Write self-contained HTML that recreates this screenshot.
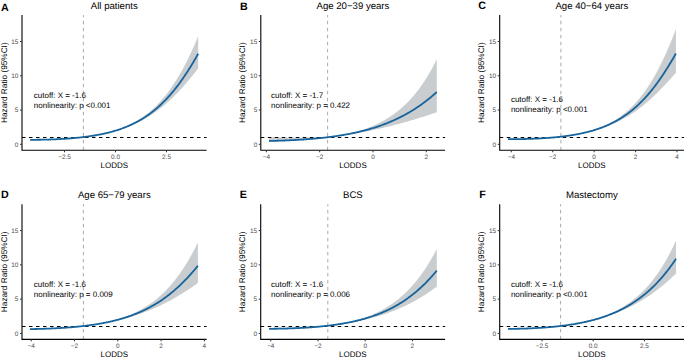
<!DOCTYPE html>
<html><head><meta charset="utf-8"><style>
html,body{margin:0;padding:0;background:#fff;}
body{width:685px;height:358px;overflow:hidden;}
svg{display:block;}
text{font-family:"Liberation Sans",sans-serif;text-rendering:geometricPrecision;}
.tk{font-size:6.4px;fill:#4D4D4D;}
.at{font-size:8px;fill:#000;}
.ti{font-size:9.6px;fill:#000;}
.lb{font-size:10.7px;font-weight:bold;fill:#000;}
.an{font-size:8px;fill:#000;}
.yt{font-size:8.25px;fill:#000;}
</style></head><body>
<svg width="685" height="358" viewBox="0 0 685 358">
<rect width="685" height="358" fill="#fff"/>
<polygon points="30.1,139.56 30.85,139.56 31.59,139.57 32.34,139.57 33.09,139.57 33.84,139.57 34.58,139.57 35.33,139.57 36.08,139.57 36.82,139.57 37.57,139.56 38.32,139.56 39.07,139.55 39.81,139.54 40.56,139.53 41.31,139.53 42.05,139.51 42.8,139.5 43.55,139.49 44.3,139.48 45.04,139.46 45.79,139.45 46.54,139.43 47.28,139.41 48.03,139.39 48.78,139.37 49.52,139.35 50.27,139.33 51.02,139.31 51.77,139.28 52.51,139.26 53.26,139.23 54.01,139.2 54.75,139.17 55.5,139.14 56.25,139.11 57,139.08 57.74,139.05 58.49,139.01 59.24,138.98 59.98,138.94 60.73,138.9 61.48,138.86 62.23,138.82 62.97,138.78 63.72,138.74 64.47,138.69 65.21,138.64 65.96,138.6 66.71,138.55 67.46,138.5 68.2,138.45 68.95,138.4 69.7,138.34 70.44,138.29 71.19,138.23 71.94,138.17 72.69,138.11 73.43,138.05 74.18,137.99 74.93,137.92 75.67,137.86 76.42,137.79 77.17,137.72 77.92,137.65 78.66,137.58 79.41,137.5 80.16,137.43 80.9,137.35 81.65,137.27 82.4,137.19 83.14,137.1 83.89,137.01 84.64,136.92 85.39,136.82 86.13,136.72 86.88,136.62 87.63,136.52 88.37,136.42 89.12,136.31 89.87,136.2 90.62,136.08 91.36,135.97 92.11,135.85 92.86,135.73 93.6,135.6 94.35,135.48 95.1,135.35 95.85,135.21 96.59,135.08 97.34,134.94 98.09,134.8 98.83,134.65 99.58,134.5 100.33,134.35 101.08,134.19 101.82,134.03 102.57,133.87 103.32,133.7 104.06,133.53 104.81,133.36 105.56,133.18 106.31,133 107.05,132.81 107.8,132.62 108.55,132.43 109.29,132.23 110.04,132.02 110.79,131.82 111.54,131.6 112.28,131.39 113.03,131.16 113.78,130.94 114.52,130.7 115.27,130.47 116.02,130.22 116.76,129.98 117.51,129.72 118.26,129.46 119.01,129.2 119.75,128.93 120.5,128.65 121.25,128.37 121.99,128.08 122.74,127.79 123.49,127.49 124.24,127.18 124.98,126.87 125.73,126.55 126.48,126.22 127.22,125.88 127.97,125.54 128.72,125.19 129.47,124.83 130.21,124.47 130.96,124.1 131.71,123.72 132.45,123.33 133.2,122.93 133.95,122.53 134.7,122.12 135.44,121.69 136.19,121.26 136.94,120.82 137.68,120.37 138.43,119.92 139.18,119.45 139.93,118.97 140.67,118.48 141.42,117.99 142.17,117.48 142.91,116.96 143.66,116.43 144.41,115.89 145.16,115.34 145.9,114.78 146.65,114.21 147.4,113.62 148.14,113.03 148.89,112.42 149.64,111.8 150.38,111.17 151.13,110.52 151.88,109.87 152.63,109.2 153.37,108.51 154.12,107.82 154.87,107.11 155.61,106.38 156.36,105.64 157.11,104.89 157.86,104.13 158.6,103.34 159.35,102.55 160.1,101.74 160.84,100.91 161.59,100.07 162.34,99.21 163.09,98.34 163.83,97.45 164.58,96.55 165.33,95.63 166.07,94.69 166.82,93.73 167.57,92.76 168.32,91.77 169.06,90.77 169.81,89.74 170.56,88.7 171.3,87.64 172.05,86.56 172.8,85.47 173.55,84.35 174.29,83.22 175.04,82.07 175.79,80.9 176.53,79.7 177.28,78.49 178.03,77.26 178.78,76.02 179.52,74.75 180.27,73.46 181.02,72.15 181.76,70.82 182.51,69.47 183.26,68.09 184,66.7 184.75,65.29 185.5,63.86 186.25,62.4 186.99,60.93 187.74,59.43 188.49,57.91 189.23,56.37 189.98,54.81 190.73,53.23 191.48,51.63 192.22,50.01 192.97,48.36 193.72,46.69 194.46,45.01 195.21,43.3 195.96,41.57 196.71,39.81 197.45,38.04 198.2,36.25 198.2,68.38 197.45,69.34 196.71,70.3 195.96,71.25 195.21,72.2 194.46,73.14 193.72,74.07 192.97,75 192.22,75.92 191.48,76.84 190.73,77.75 189.98,78.66 189.23,79.56 188.49,80.45 187.74,81.34 186.99,82.21 186.25,83.09 185.5,83.95 184.75,84.81 184,85.66 183.26,86.5 182.51,87.33 181.76,88.16 181.02,88.98 180.27,89.79 179.52,90.59 178.78,91.39 178.03,92.17 177.28,92.95 176.53,93.72 175.79,94.48 175.04,95.24 174.29,95.98 173.55,96.72 172.8,97.45 172.05,98.17 171.3,98.88 170.56,99.58 169.81,100.28 169.06,100.96 168.32,101.64 167.57,102.31 166.82,102.97 166.07,103.62 165.33,104.27 164.58,104.9 163.83,105.53 163.09,106.15 162.34,106.76 161.59,107.36 160.84,107.95 160.1,108.54 159.35,109.12 158.6,109.69 157.86,110.25 157.11,110.8 156.36,111.34 155.61,111.88 154.87,112.41 154.12,112.93 153.37,113.44 152.63,113.95 151.88,114.45 151.13,114.94 150.38,115.42 149.64,115.9 148.89,116.36 148.14,116.83 147.4,117.28 146.65,117.72 145.9,118.16 145.16,118.6 144.41,119.02 143.66,119.44 142.91,119.85 142.17,120.26 141.42,120.65 140.67,121.04 139.93,121.43 139.18,121.81 138.43,122.18 137.68,122.55 136.94,122.91 136.19,123.26 135.44,123.61 134.7,123.95 133.95,124.28 133.2,124.61 132.45,124.94 131.71,125.26 130.96,125.57 130.21,125.88 129.47,126.18 128.72,126.47 127.97,126.76 127.22,127.05 126.48,127.33 125.73,127.61 124.98,127.88 124.24,128.14 123.49,128.4 122.74,128.66 121.99,128.91 121.25,129.16 120.5,129.4 119.75,129.64 119.01,129.87 118.26,130.1 117.51,130.33 116.76,130.55 116.02,130.77 115.27,130.98 114.52,131.19 113.78,131.39 113.03,131.59 112.28,131.79 111.54,131.98 110.79,132.17 110.04,132.36 109.29,132.54 108.55,132.72 107.8,132.9 107.05,133.07 106.31,133.24 105.56,133.4 104.81,133.56 104.06,133.72 103.32,133.88 102.57,134.03 101.82,134.18 101.08,134.33 100.33,134.47 99.58,134.62 98.83,134.75 98.09,134.89 97.34,135.02 96.59,135.15 95.85,135.28 95.1,135.41 94.35,135.53 93.6,135.65 92.86,135.77 92.11,135.88 91.36,136 90.62,136.11 89.87,136.22 89.12,136.32 88.37,136.43 87.63,136.53 86.88,136.63 86.13,136.73 85.39,136.82 84.64,136.92 83.89,137.01 83.14,137.1 82.4,137.19 81.65,137.28 80.9,137.37 80.16,137.45 79.41,137.54 78.66,137.62 77.92,137.7 77.17,137.78 76.42,137.85 75.67,137.93 74.93,138 74.18,138.07 73.43,138.14 72.69,138.2 71.94,138.27 71.19,138.33 70.44,138.4 69.7,138.46 68.95,138.52 68.2,138.57 67.46,138.63 66.71,138.68 65.96,138.74 65.21,138.79 64.47,138.84 63.72,138.89 62.97,138.94 62.23,138.98 61.48,139.03 60.73,139.07 59.98,139.12 59.24,139.16 58.49,139.2 57.74,139.24 57,139.27 56.25,139.31 55.5,139.35 54.75,139.38 54.01,139.41 53.26,139.44 52.51,139.48 51.77,139.51 51.02,139.53 50.27,139.56 49.52,139.59 48.78,139.61 48.03,139.64 47.28,139.66 46.54,139.68 45.79,139.7 45.04,139.72 44.3,139.74 43.55,139.76 42.8,139.78 42.05,139.79 41.31,139.81 40.56,139.82 39.81,139.84 39.07,139.85 38.32,139.86 37.57,139.87 36.82,139.88 36.08,139.88 35.33,139.89 34.58,139.9 33.84,139.9 33.09,139.91 32.34,139.91 31.59,139.91 30.85,139.91 30.1,139.91" fill="#C9CDCF"/>
<line x1="22.0" y1="137.45" x2="206.6" y2="137.45" stroke="#000" stroke-width="1.1" stroke-dasharray="3.5 3.5"/>
<line x1="83.4" y1="150.3" x2="83.4" y2="15.1" stroke="#A0A0A0" stroke-width="0.9" stroke-dasharray="3.5 3.5"/>
<polyline points="30.1,139.79 30.85,139.8 31.59,139.8 32.34,139.8 33.09,139.8 33.84,139.79 34.58,139.79 35.33,139.79 36.08,139.78 36.82,139.78 37.57,139.77 38.32,139.76 39.07,139.75 39.81,139.74 40.56,139.73 41.31,139.72 42.05,139.7 42.8,139.69 43.55,139.67 44.3,139.66 45.04,139.64 45.79,139.62 46.54,139.6 47.28,139.58 48.03,139.56 48.78,139.53 49.52,139.51 50.27,139.49 51.02,139.46 51.77,139.43 52.51,139.4 53.26,139.37 54.01,139.34 54.75,139.31 55.5,139.28 56.25,139.24 57,139.21 57.74,139.17 58.49,139.14 59.24,139.1 59.98,139.06 60.73,139.02 61.48,138.97 62.23,138.93 62.97,138.88 63.72,138.84 64.47,138.79 65.21,138.74 65.96,138.69 66.71,138.64 67.46,138.59 68.2,138.53 68.95,138.48 69.7,138.42 70.44,138.36 71.19,138.3 71.94,138.24 72.69,138.17 73.43,138.11 74.18,138.04 74.93,137.97 75.67,137.9 76.42,137.83 77.17,137.76 77.92,137.68 78.66,137.6 79.41,137.53 80.16,137.44 80.9,137.36 81.65,137.28 82.4,137.19 83.14,137.1 83.89,137.01 84.64,136.92 85.39,136.82 86.13,136.73 86.88,136.63 87.63,136.53 88.37,136.42 89.12,136.32 89.87,136.21 90.62,136.1 91.36,135.98 92.11,135.87 92.86,135.75 93.6,135.63 94.35,135.5 95.1,135.38 95.85,135.25 96.59,135.12 97.34,134.98 98.09,134.84 98.83,134.7 99.58,134.56 100.33,134.41 101.08,134.26 101.82,134.11 102.57,133.95 103.32,133.79 104.06,133.63 104.81,133.46 105.56,133.29 106.31,133.12 107.05,132.94 107.8,132.76 108.55,132.57 109.29,132.39 110.04,132.19 110.79,132 111.54,131.79 112.28,131.59 113.03,131.38 113.78,131.17 114.52,130.95 115.27,130.73 116.02,130.5 116.76,130.27 117.51,130.03 118.26,129.79 119.01,129.54 119.75,129.29 120.5,129.03 121.25,128.77 121.99,128.5 122.74,128.23 123.49,127.95 124.24,127.67 124.98,127.38 125.73,127.08 126.48,126.78 127.22,126.48 127.97,126.16 128.72,125.84 129.47,125.52 130.21,125.19 130.96,124.85 131.71,124.5 132.45,124.15 133.2,123.79 133.95,123.42 134.7,123.05 135.44,122.67 136.19,122.28 136.94,121.89 137.68,121.49 138.43,121.08 139.18,120.66 139.93,120.23 140.67,119.8 141.42,119.36 142.17,118.9 142.91,118.45 143.66,117.98 144.41,117.5 145.16,117.02 145.9,116.52 146.65,116.02 147.4,115.51 148.14,114.99 148.89,114.46 149.64,113.92 150.38,113.37 151.13,112.81 151.88,112.24 152.63,111.66 153.37,111.07 154.12,110.47 154.87,109.86 155.61,109.24 156.36,108.61 157.11,107.97 157.86,107.31 158.6,106.65 159.35,105.97 160.1,105.29 160.84,104.59 161.59,103.88 162.34,103.16 163.09,102.43 163.83,101.68 164.58,100.93 165.33,100.16 166.07,99.38 166.82,98.59 167.57,97.78 168.32,96.96 169.06,96.13 169.81,95.29 170.56,94.44 171.3,93.57 172.05,92.69 172.8,91.8 173.55,90.89 174.29,89.98 175.04,89.04 175.79,88.1 176.53,87.14 177.28,86.17 178.03,85.19 178.78,84.19 179.52,83.18 180.27,82.16 181.02,81.12 181.76,80.07 182.51,79.01 183.26,77.93 184,76.84 184.75,75.74 185.5,74.62 186.25,73.5 186.99,72.35 187.74,71.2 188.49,70.03 189.23,68.85 189.98,67.66 190.73,66.45 191.48,65.23 192.22,64 192.97,62.76 193.72,61.51 194.46,60.24 195.21,58.96 195.96,57.67 196.71,56.37 197.45,55.05 198.2,53.73" fill="none" stroke="#17639C" stroke-width="1.8" stroke-linejoin="round"/>
<path d="M22.0,15.1 V150.3 H206.6" fill="none" stroke="#000" stroke-width="1.1"/>
<line x1="20" y1="144.3" x2="22.0" y2="144.3" stroke="#333333" stroke-width="1"/>
<text x="18.4" y="146.6" class="tk" text-anchor="end">0</text>
<line x1="20" y1="110.04" x2="22.0" y2="110.04" stroke="#333333" stroke-width="1"/>
<text x="18.4" y="112.34" class="tk" text-anchor="end">5</text>
<line x1="20" y1="75.77" x2="22.0" y2="75.77" stroke="#333333" stroke-width="1"/>
<text x="18.4" y="78.07" class="tk" text-anchor="end">10</text>
<line x1="20" y1="41.51" x2="22.0" y2="41.51" stroke="#333333" stroke-width="1"/>
<text x="18.4" y="43.81" class="tk" text-anchor="end">15</text>
<line x1="64.5" y1="150.3" x2="64.5" y2="152.3" stroke="#333333" stroke-width="1"/>
<text x="64.5" y="158.8" class="tk" text-anchor="middle">−2.5</text>
<line x1="115.5" y1="150.3" x2="115.5" y2="152.3" stroke="#333333" stroke-width="1"/>
<text x="115.5" y="158.8" class="tk" text-anchor="middle">0.0</text>
<line x1="166.5" y1="150.3" x2="166.5" y2="152.3" stroke="#333333" stroke-width="1"/>
<text x="166.5" y="158.8" class="tk" text-anchor="middle">2.5</text>
<text x="114.3" y="167.8" class="at" text-anchor="middle">LODDS</text>
<text transform="translate(6.6,82.7) rotate(-90)" class="yt" text-anchor="middle">Hazard Ratio (95%CI)</text>
<text x="114.3" y="9.0" class="ti" text-anchor="middle">All patients</text>
<text x="1.1" y="11" class="lb">A</text>
<text x="33.8" y="98.1" class="an">cutoff: X = -1.6</text>
<text x="33.8" y="108.1" class="an">nonlinearity: p <0.001</text>
<polygon points="269.1,137.01 269.85,137.04 270.6,137.08 271.35,137.11 272.09,137.14 272.84,137.17 273.59,137.2 274.34,137.23 275.09,137.26 275.84,137.28 276.59,137.31 277.34,137.33 278.08,137.35 278.83,137.37 279.58,137.39 280.33,137.41 281.08,137.43 281.83,137.45 282.58,137.47 283.32,137.48 284.07,137.5 284.82,137.51 285.57,137.52 286.32,137.54 287.07,137.55 287.82,137.56 288.57,137.57 289.31,137.58 290.06,137.58 290.81,137.59 291.56,137.6 292.31,137.61 293.06,137.61 293.81,137.62 294.55,137.62 295.3,137.62 296.05,137.63 296.8,137.63 297.55,137.63 298.3,137.63 299.05,137.63 299.8,137.63 300.54,137.63 301.29,137.63 302.04,137.62 302.79,137.62 303.54,137.62 304.29,137.61 305.04,137.61 305.78,137.6 306.53,137.6 307.28,137.59 308.03,137.58 308.78,137.58 309.53,137.57 310.28,137.56 311.03,137.55 311.77,137.54 312.52,137.53 313.27,137.52 314.02,137.51 314.77,137.5 315.52,137.48 316.27,137.47 317.01,137.46 317.76,137.45 318.51,137.43 319.26,137.42 320.01,137.4 320.76,137.39 321.51,137.37 322.25,137.36 323,137.34 323.75,137.32 324.5,137.31 325.25,137.29 326,137.27 326.75,137.25 327.5,137.23 328.24,137.16 328.99,137.06 329.74,136.96 330.49,136.86 331.24,136.76 331.99,136.65 332.74,136.54 333.48,136.43 334.23,136.32 334.98,136.2 335.73,136.08 336.48,135.96 337.23,135.84 337.98,135.71 338.73,135.58 339.47,135.45 340.22,135.31 340.97,135.17 341.72,135.03 342.47,134.89 343.22,134.74 343.97,134.59 344.71,134.44 345.46,134.28 346.21,134.12 346.96,133.96 347.71,133.8 348.46,133.63 349.21,133.45 349.96,133.28 350.7,133.1 351.45,132.92 352.2,132.73 352.95,132.54 353.7,132.35 354.45,132.15 355.2,131.95 355.94,131.74 356.69,131.53 357.44,131.32 358.19,131.1 358.94,130.88 359.69,130.65 360.44,130.42 361.19,130.18 361.93,129.94 362.68,129.7 363.43,129.45 364.18,129.19 364.93,128.94 365.68,128.67 366.43,128.4 367.17,128.13 367.92,127.85 368.67,127.56 369.42,127.27 370.17,126.98 370.92,126.67 371.67,126.37 372.42,126.05 373.16,125.73 373.91,125.41 374.66,125.07 375.41,124.74 376.16,124.39 376.91,124.04 377.66,123.68 378.4,123.32 379.15,122.94 379.9,122.57 380.65,122.18 381.4,121.79 382.15,121.39 382.9,120.98 383.65,120.56 384.39,120.14 385.14,119.71 385.89,119.27 386.64,118.82 387.39,118.36 388.14,117.9 388.89,117.42 389.63,116.94 390.38,116.45 391.13,115.95 391.88,115.44 392.63,114.92 393.38,114.39 394.13,113.85 394.88,113.3 395.62,112.74 396.37,112.17 397.12,111.58 397.87,110.99 398.62,110.39 399.37,109.78 400.12,109.15 400.86,108.51 401.61,107.86 402.36,107.2 403.11,106.53 403.86,105.84 404.61,105.15 405.36,104.44 406.1,103.71 406.85,102.97 407.6,102.22 408.35,101.46 409.1,100.68 409.85,99.88 410.6,99.08 411.35,98.25 412.09,97.41 412.84,96.56 413.59,95.69 414.34,94.81 415.09,93.9 415.84,92.98 416.59,92.05 417.33,91.1 418.08,90.13 418.83,89.14 419.58,88.13 420.33,87.11 421.08,86.07 421.83,85 422.58,83.92 423.32,82.82 424.07,81.7 424.82,80.56 425.57,79.39 426.32,78.21 427.07,77 427.82,75.77 428.56,74.52 429.31,73.25 430.06,71.95 430.81,70.63 431.56,69.28 432.31,67.91 433.06,66.52 433.81,65.09 434.55,63.65 435.3,62.17 436.05,60.67 436.8,59.14 436.8,112.14 436.05,112.4 435.3,112.66 434.55,112.92 433.81,113.18 433.06,113.43 432.31,113.69 431.56,113.94 430.81,114.19 430.06,114.44 429.31,114.69 428.56,114.94 427.82,115.19 427.07,115.44 426.32,115.68 425.57,115.93 424.82,116.17 424.07,116.41 423.32,116.66 422.58,116.9 421.83,117.13 421.08,117.37 420.33,117.61 419.58,117.84 418.83,118.08 418.08,118.31 417.33,118.54 416.59,118.77 415.84,119 415.09,119.23 414.34,119.46 413.59,119.69 412.84,119.91 412.09,120.13 411.35,120.36 410.6,120.58 409.85,120.8 409.1,121.02 408.35,121.23 407.6,121.45 406.85,121.67 406.1,121.88 405.36,122.09 404.61,122.3 403.86,122.51 403.11,122.72 402.36,122.93 401.61,123.14 400.86,123.34 400.12,123.55 399.37,123.75 398.62,123.95 397.87,124.15 397.12,124.35 396.37,124.55 395.62,124.74 394.88,124.94 394.13,125.13 393.38,125.32 392.63,125.51 391.88,125.7 391.13,125.89 390.38,126.08 389.63,126.26 388.89,126.45 388.14,126.63 387.39,126.81 386.64,126.99 385.89,127.17 385.14,127.35 384.39,127.53 383.65,127.7 382.9,127.88 382.15,128.05 381.4,128.22 380.65,128.39 379.9,128.56 379.15,128.73 378.4,128.89 377.66,129.06 376.91,129.22 376.16,129.38 375.41,129.54 374.66,129.7 373.91,129.86 373.16,130.01 372.42,130.17 371.67,130.32 370.92,130.48 370.17,130.63 369.42,130.78 368.67,130.93 367.92,131.07 367.17,131.22 366.43,131.36 365.68,131.51 364.93,131.65 364.18,131.79 363.43,131.93 362.68,132.07 361.93,132.2 361.19,132.34 360.44,132.47 359.69,132.61 358.94,132.74 358.19,132.87 357.44,133 356.69,133.13 355.94,133.25 355.2,133.38 354.45,133.5 353.7,133.63 352.95,133.75 352.2,133.87 351.45,133.99 350.7,134.11 349.96,134.23 349.21,134.34 348.46,134.46 347.71,134.57 346.96,134.68 346.21,134.79 345.46,134.9 344.71,135.01 343.97,135.12 343.22,135.23 342.47,135.33 341.72,135.44 340.97,135.54 340.22,135.65 339.47,135.75 338.73,135.85 337.98,135.95 337.23,136.05 336.48,136.14 335.73,136.24 334.98,136.34 334.23,136.43 333.48,136.52 332.74,136.62 331.99,136.71 331.24,136.8 330.49,136.89 329.74,136.98 328.99,137.07 328.24,137.16 327.5,137.25 326.75,137.35 326,137.45 325.25,137.55 324.5,137.64 323.75,137.73 323,137.82 322.25,137.91 321.51,138 320.76,138.09 320.01,138.17 319.26,138.26 318.51,138.34 317.76,138.42 317.01,138.5 316.27,138.57 315.52,138.65 314.77,138.72 314.02,138.8 313.27,138.87 312.52,138.94 311.77,139.01 311.03,139.08 310.28,139.14 309.53,139.21 308.78,139.27 308.03,139.34 307.28,139.4 306.53,139.46 305.78,139.52 305.04,139.58 304.29,139.63 303.54,139.69 302.79,139.75 302.04,139.8 301.29,139.85 300.54,139.91 299.8,139.96 299.05,140.01 298.3,140.06 297.55,140.1 296.8,140.15 296.05,140.2 295.3,140.24 294.55,140.29 293.81,140.33 293.06,140.37 292.31,140.42 291.56,140.46 290.81,140.5 290.06,140.54 289.31,140.57 288.57,140.61 287.82,140.65 287.07,140.69 286.32,140.72 285.57,140.76 284.82,140.79 284.07,140.82 283.32,140.85 282.58,140.89 281.83,140.92 281.08,140.95 280.33,140.98 279.58,141.01 278.83,141.03 278.08,141.06 277.34,141.09 276.59,141.11 275.84,141.14 275.09,141.16 274.34,141.19 273.59,141.21 272.84,141.23 272.09,141.26 271.35,141.28 270.6,141.3 269.85,141.32 269.1,141.34" fill="#C9CDCF"/>
<line x1="260.8" y1="137.45" x2="445.1" y2="137.45" stroke="#000" stroke-width="1.1" stroke-dasharray="3.5 3.5"/>
<line x1="327.6" y1="150.3" x2="327.6" y2="15.1" stroke="#A0A0A0" stroke-width="0.9" stroke-dasharray="3.5 3.5"/>
<polyline points="269.1,141 269.85,140.98 270.6,140.96 271.35,140.94 272.09,140.92 272.84,140.9 273.59,140.88 274.34,140.86 275.09,140.84 275.84,140.82 276.59,140.79 277.34,140.77 278.08,140.74 278.83,140.72 279.58,140.69 280.33,140.67 281.08,140.64 281.83,140.61 282.58,140.58 283.32,140.56 284.07,140.53 284.82,140.49 285.57,140.46 286.32,140.43 287.07,140.4 287.82,140.37 288.57,140.33 289.31,140.3 290.06,140.26 290.81,140.22 291.56,140.19 292.31,140.15 293.06,140.11 293.81,140.07 294.55,140.03 295.3,139.99 296.05,139.95 296.8,139.9 297.55,139.86 298.3,139.82 299.05,139.77 299.8,139.72 300.54,139.68 301.29,139.63 302.04,139.58 302.79,139.53 303.54,139.48 304.29,139.43 305.04,139.37 305.78,139.32 306.53,139.26 307.28,139.21 308.03,139.15 308.78,139.09 309.53,139.03 310.28,138.97 311.03,138.91 311.77,138.85 312.52,138.78 313.27,138.72 314.02,138.65 314.77,138.59 315.52,138.52 316.27,138.45 317.01,138.38 317.76,138.31 318.51,138.23 319.26,138.16 320.01,138.08 320.76,138.01 321.51,137.93 322.25,137.85 323,137.77 323.75,137.68 324.5,137.6 325.25,137.52 326,137.43 326.75,137.34 327.5,137.25 328.24,137.16 328.99,137.07 329.74,136.97 330.49,136.88 331.24,136.78 331.99,136.68 332.74,136.58 333.48,136.48 334.23,136.37 334.98,136.27 335.73,136.16 336.48,136.05 337.23,135.94 337.98,135.83 338.73,135.71 339.47,135.6 340.22,135.48 340.97,135.36 341.72,135.24 342.47,135.11 343.22,134.99 343.97,134.86 344.71,134.73 345.46,134.6 346.21,134.46 346.96,134.33 347.71,134.19 348.46,134.05 349.21,133.91 349.96,133.76 350.7,133.62 351.45,133.47 352.2,133.31 352.95,133.16 353.7,133 354.45,132.85 355.2,132.69 355.94,132.52 356.69,132.36 357.44,132.19 358.19,132.02 358.94,131.84 359.69,131.67 360.44,131.49 361.19,131.31 361.93,131.12 362.68,130.94 363.43,130.75 364.18,130.55 364.93,130.36 365.68,130.16 366.43,129.96 367.17,129.76 367.92,129.55 368.67,129.34 369.42,129.13 370.17,128.91 370.92,128.69 371.67,128.47 372.42,128.24 373.16,128.01 373.91,127.78 374.66,127.55 375.41,127.31 376.16,127.07 376.91,126.82 377.66,126.57 378.4,126.32 379.15,126.06 379.9,125.8 380.65,125.54 381.4,125.27 382.15,125 382.9,124.73 383.65,124.45 384.39,124.17 385.14,123.88 385.89,123.59 386.64,123.3 387.39,123 388.14,122.7 388.89,122.4 389.63,122.09 390.38,121.77 391.13,121.45 391.88,121.13 392.63,120.8 393.38,120.47 394.13,120.14 394.88,119.8 395.62,119.45 396.37,119.11 397.12,118.75 397.87,118.39 398.62,118.03 399.37,117.66 400.12,117.29 400.86,116.91 401.61,116.53 402.36,116.14 403.11,115.75 403.86,115.36 404.61,114.95 405.36,114.55 406.1,114.13 406.85,113.72 407.6,113.29 408.35,112.86 409.1,112.43 409.85,111.99 410.6,111.55 411.35,111.1 412.09,110.64 412.84,110.18 413.59,109.71 414.34,109.24 415.09,108.76 415.84,108.27 416.59,107.78 417.33,107.28 418.08,106.78 418.83,106.27 419.58,105.75 420.33,105.23 421.08,104.7 421.83,104.16 422.58,103.62 423.32,103.07 424.07,102.52 424.82,101.96 425.57,101.39 426.32,100.81 427.07,100.23 427.82,99.64 428.56,99.04 429.31,98.44 430.06,97.82 430.81,97.2 431.56,96.58 432.31,95.94 433.06,95.3 433.81,94.65 434.55,93.99 435.3,93.33 436.05,92.65 436.8,91.97" fill="none" stroke="#17639C" stroke-width="1.8" stroke-linejoin="round"/>
<path d="M260.8,15.1 V150.3 H445.1" fill="none" stroke="#000" stroke-width="1.1"/>
<line x1="258.8" y1="144.3" x2="260.8" y2="144.3" stroke="#333333" stroke-width="1"/>
<text x="257.2" y="146.6" class="tk" text-anchor="end">0</text>
<line x1="258.8" y1="110.04" x2="260.8" y2="110.04" stroke="#333333" stroke-width="1"/>
<text x="257.2" y="112.34" class="tk" text-anchor="end">5</text>
<line x1="258.8" y1="75.77" x2="260.8" y2="75.77" stroke="#333333" stroke-width="1"/>
<text x="257.2" y="78.07" class="tk" text-anchor="end">10</text>
<line x1="258.8" y1="41.51" x2="260.8" y2="41.51" stroke="#333333" stroke-width="1"/>
<text x="257.2" y="43.81" class="tk" text-anchor="end">15</text>
<line x1="266.4" y1="150.3" x2="266.4" y2="152.3" stroke="#333333" stroke-width="1"/>
<text x="266.4" y="158.8" class="tk" text-anchor="middle">−4</text>
<line x1="319.7" y1="150.3" x2="319.7" y2="152.3" stroke="#333333" stroke-width="1"/>
<text x="319.7" y="158.8" class="tk" text-anchor="middle">−2</text>
<line x1="373" y1="150.3" x2="373" y2="152.3" stroke="#333333" stroke-width="1"/>
<text x="373" y="158.8" class="tk" text-anchor="middle">0</text>
<line x1="426.3" y1="150.3" x2="426.3" y2="152.3" stroke="#333333" stroke-width="1"/>
<text x="426.3" y="158.8" class="tk" text-anchor="middle">2</text>
<text x="352.95" y="167.8" class="at" text-anchor="middle">LODDS</text>
<text transform="translate(245.4,82.7) rotate(-90)" class="yt" text-anchor="middle">Hazard Ratio (95%CI)</text>
<text x="352.95" y="8.8" class="ti" text-anchor="middle">Age 20−39 years</text>
<text x="239.9" y="10.4" class="lb">B</text>
<text x="271.1" y="97.8" class="an">cutoff: X = -1.7</text>
<text x="271.1" y="108.1" class="an">nonlinearity: p = 0.422</text>
<polygon points="508,138.68 508.75,138.7 509.5,138.71 510.25,138.72 511,138.73 511.75,138.74 512.5,138.75 513.25,138.76 514,138.76 514.75,138.77 515.5,138.77 516.25,138.77 516.99,138.77 517.74,138.77 518.49,138.77 519.24,138.77 519.99,138.76 520.74,138.76 521.49,138.75 522.24,138.74 522.99,138.73 523.74,138.73 524.49,138.71 525.24,138.7 525.99,138.69 526.74,138.68 527.49,138.66 528.24,138.64 528.99,138.63 529.74,138.61 530.49,138.59 531.24,138.57 531.99,138.54 532.74,138.52 533.48,138.5 534.23,138.47 534.98,138.44 535.73,138.42 536.48,138.39 537.23,138.36 537.98,138.32 538.73,138.29 539.48,138.26 540.23,138.22 540.98,138.18 541.73,138.15 542.48,138.11 543.23,138.07 543.98,138.02 544.73,137.98 545.48,137.94 546.23,137.89 546.98,137.84 547.73,137.79 548.48,137.74 549.23,137.69 549.98,137.64 550.72,137.58 551.47,137.53 552.22,137.47 552.97,137.41 553.72,137.35 554.47,137.29 555.22,137.22 555.97,137.16 556.72,137.09 557.47,137.02 558.22,136.95 558.97,136.88 559.72,136.8 560.47,136.73 561.22,136.64 561.97,136.56 562.72,136.46 563.47,136.37 564.22,136.28 564.97,136.18 565.72,136.08 566.47,135.97 567.21,135.87 567.96,135.76 568.71,135.64 569.46,135.53 570.21,135.41 570.96,135.29 571.71,135.17 572.46,135.04 573.21,134.91 573.96,134.78 574.71,134.65 575.46,134.51 576.21,134.36 576.96,134.22 577.71,134.07 578.46,133.92 579.21,133.76 579.96,133.6 580.71,133.44 581.46,133.27 582.21,133.1 582.96,132.92 583.7,132.74 584.45,132.56 585.2,132.37 585.95,132.18 586.7,131.98 587.45,131.78 588.2,131.57 588.95,131.36 589.7,131.15 590.45,130.92 591.2,130.7 591.95,130.47 592.7,130.23 593.45,129.99 594.2,129.74 594.95,129.49 595.7,129.23 596.45,128.96 597.2,128.69 597.95,128.42 598.7,128.13 599.45,127.84 600.2,127.55 600.94,127.24 601.69,126.93 602.44,126.62 603.19,126.29 603.94,125.96 604.69,125.62 605.44,125.27 606.19,124.92 606.94,124.56 607.69,124.19 608.44,123.81 609.19,123.42 609.94,123.03 610.69,122.62 611.44,122.21 612.19,121.79 612.94,121.35 613.69,120.91 614.44,120.46 615.19,120 615.94,119.53 616.69,119.05 617.43,118.55 618.18,118.05 618.93,117.54 619.68,117.01 620.43,116.48 621.18,115.93 621.93,115.37 622.68,114.8 623.43,114.22 624.18,113.62 624.93,113.01 625.68,112.39 626.43,111.75 627.18,111.11 627.93,110.44 628.68,109.77 629.43,109.08 630.18,108.37 630.93,107.66 631.68,106.92 632.43,106.17 633.18,105.41 633.92,104.63 634.67,103.83 635.42,103.02 636.17,102.19 636.92,101.35 637.67,100.49 638.42,99.61 639.17,98.71 639.92,97.8 640.67,96.87 641.42,95.92 642.17,94.95 642.92,93.97 643.67,92.96 644.42,91.94 645.17,90.89 645.92,89.83 646.67,88.75 647.42,87.64 648.17,86.52 648.92,85.37 649.67,84.21 650.42,83.02 651.16,81.81 651.91,80.58 652.66,79.33 653.41,78.06 654.16,76.77 654.91,75.45 655.66,74.11 656.41,72.75 657.16,71.36 657.91,69.95 658.66,68.52 659.41,67.06 660.16,65.59 660.91,64.08 661.66,62.56 662.41,61.01 663.16,59.43 663.91,57.84 664.66,56.21 665.41,54.57 666.16,52.9 666.91,51.2 667.65,49.48 668.4,47.74 669.15,45.97 669.9,44.18 670.65,42.36 671.4,40.52 672.15,38.66 672.9,36.77 673.65,34.85 674.4,32.92 675.15,30.96 675.9,28.98 675.9,72.82 675.15,73.66 674.4,74.51 673.65,75.35 672.9,76.19 672.15,77.02 671.4,77.86 670.65,78.69 669.9,79.52 669.15,80.34 668.4,81.16 667.65,81.98 666.91,82.79 666.16,83.6 665.41,84.41 664.66,85.2 663.91,86 663.16,86.79 662.41,87.57 661.66,88.35 660.91,89.12 660.16,89.89 659.41,90.65 658.66,91.4 657.91,92.15 657.16,92.89 656.41,93.63 655.66,94.36 654.91,95.08 654.16,95.79 653.41,96.5 652.66,97.2 651.91,97.89 651.16,98.58 650.42,99.26 649.67,99.93 648.92,100.6 648.17,101.25 647.42,101.9 646.67,102.55 645.92,103.18 645.17,103.81 644.42,104.43 643.67,105.04 642.92,105.64 642.17,106.24 641.42,106.83 640.67,107.41 639.92,107.99 639.17,108.55 638.42,109.11 637.67,109.66 636.92,110.21 636.17,110.74 635.42,111.27 634.67,111.8 633.92,112.31 633.18,112.82 632.43,113.32 631.68,113.81 630.93,114.29 630.18,114.77 629.43,115.24 628.68,115.71 627.93,116.16 627.18,116.61 626.43,117.06 625.68,117.49 624.93,117.92 624.18,118.34 623.43,118.76 622.68,119.17 621.93,119.57 621.18,119.97 620.43,120.36 619.68,120.74 618.93,121.12 618.18,121.49 617.43,121.85 616.69,122.21 615.94,122.57 615.19,122.91 614.44,123.25 613.69,123.59 612.94,123.92 612.19,124.24 611.44,124.56 610.69,124.87 609.94,125.18 609.19,125.48 608.44,125.78 607.69,126.07 606.94,126.36 606.19,126.64 605.44,126.91 604.69,127.19 603.94,127.45 603.19,127.71 602.44,127.97 601.69,128.22 600.94,128.47 600.2,128.71 599.45,128.95 598.7,129.19 597.95,129.42 597.2,129.64 596.45,129.87 595.7,130.08 594.95,130.3 594.2,130.51 593.45,130.71 592.7,130.91 591.95,131.11 591.2,131.31 590.45,131.5 589.7,131.68 588.95,131.87 588.2,132.05 587.45,132.22 586.7,132.4 585.95,132.57 585.2,132.73 584.45,132.9 583.7,133.06 582.96,133.22 582.21,133.37 581.46,133.52 580.71,133.67 579.96,133.81 579.21,133.96 578.46,134.1 577.71,134.23 576.96,134.37 576.21,134.5 575.46,134.63 574.71,134.75 573.96,134.88 573.21,135 572.46,135.12 571.71,135.24 570.96,135.35 570.21,135.46 569.46,135.57 568.71,135.68 567.96,135.79 567.21,135.89 566.47,135.99 565.72,136.09 564.97,136.19 564.22,136.28 563.47,136.38 562.72,136.47 561.97,136.56 561.22,136.64 560.47,136.73 559.72,136.82 558.97,136.91 558.22,136.99 557.47,137.07 556.72,137.15 555.97,137.23 555.22,137.3 554.47,137.37 553.72,137.45 552.97,137.52 552.22,137.58 551.47,137.65 550.72,137.71 549.98,137.78 549.23,137.84 548.48,137.9 547.73,137.96 546.98,138.01 546.23,138.07 545.48,138.12 544.73,138.18 543.98,138.23 543.23,138.28 542.48,138.32 541.73,138.37 540.98,138.42 540.23,138.46 539.48,138.5 538.73,138.54 537.98,138.58 537.23,138.62 536.48,138.66 535.73,138.7 534.98,138.73 534.23,138.76 533.48,138.8 532.74,138.83 531.99,138.86 531.24,138.89 530.49,138.91 529.74,138.94 528.99,138.97 528.24,138.99 527.49,139.01 526.74,139.04 525.99,139.06 525.24,139.08 524.49,139.09 523.74,139.11 522.99,139.13 522.24,139.14 521.49,139.16 520.74,139.17 519.99,139.18 519.24,139.2 518.49,139.21 517.74,139.21 516.99,139.22 516.25,139.23 515.5,139.23 514.75,139.24 514,139.24 513.25,139.24 512.5,139.25 511.75,139.25 511,139.25 510.25,139.24 509.5,139.24 508.75,139.24 508,139.23" fill="#C9CDCF"/>
<line x1="499.7" y1="137.45" x2="684.0" y2="137.45" stroke="#000" stroke-width="1.1" stroke-dasharray="3.5 3.5"/>
<line x1="560.9" y1="150.3" x2="560.9" y2="15.1" stroke="#A0A0A0" stroke-width="0.9" stroke-dasharray="3.5 3.5"/>
<polyline points="508,139.1 508.75,139.11 509.5,139.11 510.25,139.12 511,139.12 511.75,139.12 512.5,139.13 513.25,139.13 514,139.13 514.75,139.12 515.5,139.12 516.25,139.12 516.99,139.11 517.74,139.11 518.49,139.1 519.24,139.09 519.99,139.08 520.74,139.07 521.49,139.06 522.24,139.05 522.99,139.03 523.74,139.02 524.49,139 525.24,138.99 525.99,138.97 526.74,138.95 527.49,138.93 528.24,138.91 528.99,138.88 529.74,138.86 530.49,138.83 531.24,138.81 531.99,138.78 532.74,138.75 533.48,138.72 534.23,138.69 534.98,138.66 535.73,138.63 536.48,138.59 537.23,138.56 537.98,138.52 538.73,138.48 539.48,138.44 540.23,138.4 540.98,138.36 541.73,138.32 542.48,138.27 543.23,138.22 543.98,138.18 544.73,138.13 545.48,138.08 546.23,138.03 546.98,137.97 547.73,137.92 548.48,137.86 549.23,137.8 549.98,137.74 550.72,137.68 551.47,137.62 552.22,137.56 552.97,137.49 553.72,137.42 554.47,137.35 555.22,137.28 555.97,137.21 556.72,137.13 557.47,137.06 558.22,136.98 558.97,136.9 559.72,136.82 560.47,136.73 561.22,136.64 561.97,136.56 562.72,136.47 563.47,136.37 564.22,136.28 564.97,136.18 565.72,136.08 566.47,135.98 567.21,135.88 567.96,135.77 568.71,135.66 569.46,135.55 570.21,135.44 570.96,135.32 571.71,135.2 572.46,135.08 573.21,134.96 573.96,134.83 574.71,134.7 575.46,134.57 576.21,134.43 576.96,134.29 577.71,134.15 578.46,134.01 579.21,133.86 579.96,133.71 580.71,133.55 581.46,133.4 582.21,133.23 582.96,133.07 583.7,132.9 584.45,132.73 585.2,132.55 585.95,132.37 586.7,132.19 587.45,132 588.2,131.81 588.95,131.62 589.7,131.42 590.45,131.21 591.2,131.01 591.95,130.79 592.7,130.58 593.45,130.35 594.2,130.13 594.95,129.9 595.7,129.66 596.45,129.42 597.2,129.18 597.95,128.92 598.7,128.67 599.45,128.41 600.2,128.14 600.94,127.87 601.69,127.59 602.44,127.31 603.19,127.02 603.94,126.72 604.69,126.42 605.44,126.11 606.19,125.8 606.94,125.48 607.69,125.15 608.44,124.82 609.19,124.48 609.94,124.13 610.69,123.78 611.44,123.42 612.19,123.05 612.94,122.67 613.69,122.29 614.44,121.9 615.19,121.5 615.94,121.1 616.69,120.68 617.43,120.26 618.18,119.83 618.93,119.39 619.68,118.95 620.43,118.49 621.18,118.03 621.93,117.55 622.68,117.07 623.43,116.58 624.18,116.08 624.93,115.57 625.68,115.05 626.43,114.52 627.18,113.98 627.93,113.44 628.68,112.88 629.43,112.31 630.18,111.73 630.93,111.14 631.68,110.54 632.43,109.93 633.18,109.31 633.92,108.68 634.67,108.03 635.42,107.38 636.17,106.71 636.92,106.03 637.67,105.35 638.42,104.65 639.17,103.93 639.92,103.21 640.67,102.47 641.42,101.72 642.17,100.96 642.92,100.19 643.67,99.4 644.42,98.61 645.17,97.8 645.92,96.97 646.67,96.14 647.42,95.29 648.17,94.43 648.92,93.55 649.67,92.67 650.42,91.76 651.16,90.85 651.91,89.92 652.66,88.98 653.41,88.03 654.16,87.06 654.91,86.08 655.66,85.09 656.41,84.09 657.16,83.07 657.91,82.03 658.66,80.99 659.41,79.93 660.16,78.86 660.91,77.77 661.66,76.67 662.41,75.56 663.16,74.44 663.91,73.3 664.66,72.15 665.41,70.99 666.16,69.81 666.91,68.63 667.65,67.43 668.4,66.22 669.15,65 669.9,63.76 670.65,62.52 671.4,61.26 672.15,59.99 672.9,58.72 673.65,57.43 674.4,56.13 675.15,54.82 675.9,53.51" fill="none" stroke="#17639C" stroke-width="1.8" stroke-linejoin="round"/>
<path d="M499.7,15.1 V150.3 H684.0" fill="none" stroke="#000" stroke-width="1.1"/>
<line x1="497.7" y1="144.3" x2="499.7" y2="144.3" stroke="#333333" stroke-width="1"/>
<text x="496.1" y="146.6" class="tk" text-anchor="end">0</text>
<line x1="497.7" y1="110.04" x2="499.7" y2="110.04" stroke="#333333" stroke-width="1"/>
<text x="496.1" y="112.34" class="tk" text-anchor="end">5</text>
<line x1="497.7" y1="75.77" x2="499.7" y2="75.77" stroke="#333333" stroke-width="1"/>
<text x="496.1" y="78.07" class="tk" text-anchor="end">10</text>
<line x1="497.7" y1="41.51" x2="499.7" y2="41.51" stroke="#333333" stroke-width="1"/>
<text x="496.1" y="43.81" class="tk" text-anchor="end">15</text>
<line x1="511.31" y1="150.3" x2="511.31" y2="152.3" stroke="#333333" stroke-width="1"/>
<text x="511.31" y="158.8" class="tk" text-anchor="middle">−4</text>
<line x1="552.73" y1="150.3" x2="552.73" y2="152.3" stroke="#333333" stroke-width="1"/>
<text x="552.73" y="158.8" class="tk" text-anchor="middle">−2</text>
<line x1="594.15" y1="150.3" x2="594.15" y2="152.3" stroke="#333333" stroke-width="1"/>
<text x="594.15" y="158.8" class="tk" text-anchor="middle">0</text>
<line x1="635.57" y1="150.3" x2="635.57" y2="152.3" stroke="#333333" stroke-width="1"/>
<text x="635.57" y="158.8" class="tk" text-anchor="middle">2</text>
<line x1="676.99" y1="150.3" x2="676.99" y2="152.3" stroke="#333333" stroke-width="1"/>
<text x="676.99" y="158.8" class="tk" text-anchor="middle">4</text>
<text x="591.85" y="167.8" class="at" text-anchor="middle">LODDS</text>
<text transform="translate(484.3,82.7) rotate(-90)" class="yt" text-anchor="middle">Hazard Ratio (95%CI)</text>
<text x="591.85" y="8.8" class="ti" text-anchor="middle">Age 40−64 years</text>
<text x="478.2" y="9" class="lb">C</text>
<text x="510.9" y="101.7" class="an">cutoff: X = -1.6</text>
<text x="510.9" y="111.5" class="an">nonlinearity: p <0.001</text>
<polygon points="30,328.42 30.75,328.42 31.5,328.41 32.25,328.41 33,328.41 33.75,328.4 34.5,328.39 35.25,328.39 36,328.38 36.75,328.37 37.5,328.36 38.25,328.35 38.99,328.34 39.74,328.33 40.49,328.32 41.24,328.3 41.99,328.29 42.74,328.27 43.49,328.26 44.24,328.24 44.99,328.22 45.74,328.2 46.49,328.18 47.24,328.16 47.99,328.14 48.74,328.12 49.49,328.09 50.24,328.07 50.99,328.05 51.74,328.02 52.49,327.99 53.24,327.97 53.99,327.94 54.74,327.91 55.48,327.88 56.23,327.85 56.98,327.81 57.73,327.78 58.48,327.75 59.23,327.71 59.98,327.68 60.73,327.64 61.48,327.6 62.23,327.56 62.98,327.52 63.73,327.48 64.48,327.44 65.23,327.4 65.98,327.36 66.73,327.31 67.48,327.27 68.23,327.22 68.98,327.17 69.73,327.12 70.48,327.07 71.23,327.02 71.97,326.97 72.72,326.92 73.47,326.86 74.22,326.81 74.97,326.75 75.72,326.69 76.47,326.63 77.22,326.57 77.97,326.51 78.72,326.45 79.47,326.38 80.22,326.32 80.97,326.25 81.72,326.18 82.47,326.11 83.22,326.04 83.97,325.95 84.72,325.86 85.47,325.77 86.22,325.68 86.97,325.58 87.72,325.48 88.47,325.38 89.21,325.28 89.96,325.17 90.71,325.07 91.46,324.96 92.21,324.85 92.96,324.73 93.71,324.61 94.46,324.49 95.21,324.37 95.96,324.25 96.71,324.12 97.46,323.99 98.21,323.86 98.96,323.72 99.71,323.58 100.46,323.44 101.21,323.3 101.96,323.15 102.71,323 103.46,322.85 104.21,322.69 104.96,322.53 105.7,322.37 106.45,322.2 107.2,322.03 107.95,321.86 108.7,321.68 109.45,321.5 110.2,321.32 110.95,321.13 111.7,320.94 112.45,320.74 113.2,320.54 113.95,320.34 114.7,320.13 115.45,319.92 116.2,319.7 116.95,319.48 117.7,319.26 118.45,319.03 119.2,318.79 119.95,318.55 120.7,318.31 121.45,318.06 122.2,317.81 122.94,317.55 123.69,317.29 124.44,317.02 125.19,316.75 125.94,316.47 126.69,316.18 127.44,315.89 128.19,315.6 128.94,315.29 129.69,314.99 130.44,314.67 131.19,314.35 131.94,314.03 132.69,313.69 133.44,313.35 134.19,313.01 134.94,312.65 135.69,312.3 136.44,311.93 137.19,311.56 137.94,311.17 138.69,310.79 139.43,310.39 140.18,309.99 140.93,309.58 141.68,309.16 142.43,308.73 143.18,308.3 143.93,307.85 144.68,307.4 145.43,306.94 146.18,306.47 146.93,305.99 147.68,305.5 148.43,305.01 149.18,304.5 149.93,303.99 150.68,303.46 151.43,302.93 152.18,302.38 152.93,301.83 153.68,301.26 154.43,300.68 155.18,300.1 155.93,299.5 156.67,298.89 157.42,298.27 158.17,297.64 158.92,297 159.67,296.34 160.42,295.68 161.17,295 161.92,294.3 162.67,293.6 163.42,292.88 164.17,292.15 164.92,291.41 165.67,290.66 166.42,289.89 167.17,289.1 167.92,288.31 168.67,287.49 169.42,286.67 170.17,285.83 170.92,284.97 171.67,284.1 172.42,283.22 173.16,282.32 173.91,281.4 174.66,280.47 175.41,279.52 176.16,278.55 176.91,277.57 177.66,276.57 178.41,275.56 179.16,274.52 179.91,273.47 180.66,272.41 181.41,271.32 182.16,270.22 182.91,269.09 183.66,267.95 184.41,266.79 185.16,265.61 185.91,264.41 186.66,263.19 187.41,261.96 188.16,260.7 188.91,259.42 189.65,258.12 190.4,256.8 191.15,255.46 191.9,254.1 192.65,252.71 193.4,251.31 194.15,249.88 194.9,248.43 195.65,246.96 196.4,245.46 197.15,243.95 197.9,242.4 197.9,283.06 197.15,283.58 196.4,284.11 195.65,284.63 194.9,285.14 194.15,285.66 193.4,286.17 192.65,286.68 191.9,287.18 191.15,287.69 190.4,288.19 189.65,288.69 188.91,289.18 188.16,289.67 187.41,290.16 186.66,290.65 185.91,291.13 185.16,291.61 184.41,292.09 183.66,292.56 182.91,293.03 182.16,293.49 181.41,293.96 180.66,294.42 179.91,294.87 179.16,295.33 178.41,295.78 177.66,296.22 176.91,296.66 176.16,297.1 175.41,297.54 174.66,297.97 173.91,298.4 173.16,298.82 172.42,299.24 171.67,299.66 170.92,300.07 170.17,300.48 169.42,300.89 168.67,301.29 167.92,301.69 167.17,302.08 166.42,302.47 165.67,302.86 164.92,303.24 164.17,303.62 163.42,304 162.67,304.37 161.92,304.74 161.17,305.1 160.42,305.46 159.67,305.82 158.92,306.17 158.17,306.52 157.42,306.87 156.67,307.21 155.93,307.54 155.18,307.88 154.43,308.21 153.68,308.54 152.93,308.86 152.18,309.18 151.43,309.5 150.68,309.81 149.93,310.12 149.18,310.42 148.43,310.72 147.68,311.02 146.93,311.32 146.18,311.61 145.43,311.89 144.68,312.18 143.93,312.46 143.18,312.74 142.43,313.01 141.68,313.28 140.93,313.55 140.18,313.81 139.43,314.07 138.69,314.33 137.94,314.58 137.19,314.83 136.44,315.08 135.69,315.32 134.94,315.56 134.19,315.8 133.44,316.04 132.69,316.27 131.94,316.49 131.19,316.72 130.44,316.94 129.69,317.16 128.94,317.38 128.19,317.59 127.44,317.8 126.69,318.01 125.94,318.21 125.19,318.42 124.44,318.61 123.69,318.81 122.94,319 122.2,319.19 121.45,319.38 120.7,319.57 119.95,319.75 119.2,319.93 118.45,320.11 117.7,320.28 116.95,320.46 116.2,320.63 115.45,320.79 114.7,320.96 113.95,321.12 113.2,321.28 112.45,321.44 111.7,321.59 110.95,321.75 110.2,321.9 109.45,322.05 108.7,322.19 107.95,322.34 107.2,322.48 106.45,322.62 105.7,322.76 104.96,322.89 104.21,323.03 103.46,323.16 102.71,323.29 101.96,323.42 101.21,323.54 100.46,323.67 99.71,323.79 98.96,323.91 98.21,324.03 97.46,324.14 96.71,324.26 95.96,324.37 95.21,324.48 94.46,324.59 93.71,324.7 92.96,324.81 92.21,324.91 91.46,325.01 90.71,325.11 89.96,325.21 89.21,325.31 88.47,325.41 87.72,325.5 86.97,325.6 86.22,325.69 85.47,325.78 84.72,325.87 83.97,325.96 83.22,326.04 82.47,326.13 81.72,326.22 80.97,326.3 80.22,326.38 79.47,326.47 78.72,326.55 77.97,326.62 77.22,326.7 76.47,326.78 75.72,326.85 74.97,326.92 74.22,326.99 73.47,327.06 72.72,327.13 71.97,327.2 71.23,327.26 70.48,327.33 69.73,327.39 68.98,327.45 68.23,327.51 67.48,327.57 66.73,327.63 65.98,327.68 65.23,327.74 64.48,327.79 63.73,327.84 62.98,327.9 62.23,327.95 61.48,328 60.73,328.04 59.98,328.09 59.23,328.14 58.48,328.18 57.73,328.23 56.98,328.27 56.23,328.31 55.48,328.35 54.74,328.39 53.99,328.43 53.24,328.47 52.49,328.5 51.74,328.54 50.99,328.57 50.24,328.61 49.49,328.64 48.74,328.67 47.99,328.71 47.24,328.74 46.49,328.77 45.74,328.79 44.99,328.82 44.24,328.85 43.49,328.88 42.74,328.9 41.99,328.92 41.24,328.95 40.49,328.97 39.74,328.99 38.99,329.01 38.25,329.03 37.5,329.05 36.75,329.07 36,329.09 35.25,329.11 34.5,329.12 33.75,329.14 33,329.15 32.25,329.17 31.5,329.18 30.75,329.19 30,329.2" fill="#C9CDCF"/>
<line x1="22.0" y1="326.55" x2="206.6" y2="326.55" stroke="#000" stroke-width="1.1" stroke-dasharray="3.5 3.5"/>
<line x1="83.4" y1="339.4" x2="83.4" y2="204.2" stroke="#A0A0A0" stroke-width="0.9" stroke-dasharray="3.5 3.5"/>
<polyline points="30,329.1 30.75,329.09 31.5,329.08 32.25,329.07 33,329.05 33.75,329.04 34.5,329.03 35.25,329.01 36,329 36.75,328.98 37.5,328.96 38.25,328.94 38.99,328.92 39.74,328.9 40.49,328.88 41.24,328.86 41.99,328.84 42.74,328.82 43.49,328.79 44.24,328.77 44.99,328.74 45.74,328.71 46.49,328.69 47.24,328.66 47.99,328.63 48.74,328.6 49.49,328.57 50.24,328.54 50.99,328.5 51.74,328.47 52.49,328.43 53.24,328.4 53.99,328.36 54.74,328.32 55.48,328.29 56.23,328.25 56.98,328.21 57.73,328.16 58.48,328.12 59.23,328.08 59.98,328.03 60.73,327.99 61.48,327.94 62.23,327.89 62.98,327.84 63.73,327.79 64.48,327.74 65.23,327.69 65.98,327.64 66.73,327.58 67.48,327.53 68.23,327.47 68.98,327.41 69.73,327.35 70.48,327.29 71.23,327.23 71.97,327.16 72.72,327.1 73.47,327.03 74.22,326.97 74.97,326.9 75.72,326.83 76.47,326.76 77.22,326.68 77.97,326.61 78.72,326.53 79.47,326.45 80.22,326.37 80.97,326.29 81.72,326.21 82.47,326.13 83.22,326.04 83.97,325.96 84.72,325.87 85.47,325.78 86.22,325.68 86.97,325.59 87.72,325.49 88.47,325.4 89.21,325.3 89.96,325.19 90.71,325.09 91.46,324.98 92.21,324.88 92.96,324.77 93.71,324.66 94.46,324.54 95.21,324.43 95.96,324.31 96.71,324.19 97.46,324.07 98.21,323.94 98.96,323.82 99.71,323.69 100.46,323.55 101.21,323.42 101.96,323.28 102.71,323.15 103.46,323 104.21,322.86 104.96,322.71 105.7,322.56 106.45,322.41 107.2,322.26 107.95,322.1 108.7,321.94 109.45,321.78 110.2,321.61 110.95,321.44 111.7,321.27 112.45,321.09 113.2,320.92 113.95,320.74 114.7,320.55 115.45,320.36 116.2,320.17 116.95,319.98 117.7,319.78 118.45,319.58 119.2,319.37 119.95,319.17 120.7,318.95 121.45,318.74 122.2,318.52 122.94,318.3 123.69,318.07 124.44,317.84 125.19,317.6 125.94,317.36 126.69,317.12 127.44,316.87 128.19,316.62 128.94,316.37 129.69,316.11 130.44,315.84 131.19,315.58 131.94,315.3 132.69,315.02 133.44,314.74 134.19,314.46 134.94,314.16 135.69,313.87 136.44,313.57 137.19,313.26 137.94,312.95 138.69,312.63 139.43,312.31 140.18,311.98 140.93,311.65 141.68,311.31 142.43,310.97 143.18,310.62 143.93,310.27 144.68,309.91 145.43,309.55 146.18,309.17 146.93,308.8 147.68,308.41 148.43,308.03 149.18,307.63 149.93,307.23 150.68,306.82 151.43,306.41 152.18,305.99 152.93,305.56 153.68,305.13 154.43,304.69 155.18,304.25 155.93,303.79 156.67,303.34 157.42,302.87 158.17,302.4 158.92,301.92 159.67,301.43 160.42,300.93 161.17,300.43 161.92,299.92 162.67,299.41 163.42,298.88 164.17,298.35 164.92,297.81 165.67,297.27 166.42,296.71 167.17,296.15 167.92,295.58 168.67,295.01 169.42,294.42 170.17,293.83 170.92,293.22 171.67,292.62 172.42,292 173.16,291.37 173.91,290.74 174.66,290.09 175.41,289.44 176.16,288.78 176.91,288.11 177.66,287.44 178.41,286.75 179.16,286.05 179.91,285.35 180.66,284.64 181.41,283.92 182.16,283.19 182.91,282.45 183.66,281.7 184.41,280.94 185.16,280.17 185.91,279.4 186.66,278.61 187.41,277.82 188.16,277.02 188.91,276.2 189.65,275.38 190.4,274.55 191.15,273.71 191.9,272.86 192.65,272 193.4,271.13 194.15,270.25 194.9,269.37 195.65,268.47 196.4,267.56 197.15,266.64 197.9,265.72" fill="none" stroke="#17639C" stroke-width="1.8" stroke-linejoin="round"/>
<path d="M22.0,204.2 V339.4 H206.6" fill="none" stroke="#000" stroke-width="1.1"/>
<line x1="20" y1="333.4" x2="22.0" y2="333.4" stroke="#333333" stroke-width="1"/>
<text x="18.4" y="335.7" class="tk" text-anchor="end">0</text>
<line x1="20" y1="299.13" x2="22.0" y2="299.13" stroke="#333333" stroke-width="1"/>
<text x="18.4" y="301.44" class="tk" text-anchor="end">5</text>
<line x1="20" y1="264.87" x2="22.0" y2="264.87" stroke="#333333" stroke-width="1"/>
<text x="18.4" y="267.17" class="tk" text-anchor="end">10</text>
<line x1="20" y1="230.6" x2="22.0" y2="230.6" stroke="#333333" stroke-width="1"/>
<text x="18.4" y="232.9" class="tk" text-anchor="end">15</text>
<line x1="31.2" y1="339.4" x2="31.2" y2="341.4" stroke="#333333" stroke-width="1"/>
<text x="31.2" y="347.9" class="tk" text-anchor="middle">−4</text>
<line x1="74.5" y1="339.4" x2="74.5" y2="341.4" stroke="#333333" stroke-width="1"/>
<text x="74.5" y="347.9" class="tk" text-anchor="middle">−2</text>
<line x1="117.8" y1="339.4" x2="117.8" y2="341.4" stroke="#333333" stroke-width="1"/>
<text x="117.8" y="347.9" class="tk" text-anchor="middle">0</text>
<line x1="161.1" y1="339.4" x2="161.1" y2="341.4" stroke="#333333" stroke-width="1"/>
<text x="161.1" y="347.9" class="tk" text-anchor="middle">2</text>
<line x1="204.4" y1="339.4" x2="204.4" y2="341.4" stroke="#333333" stroke-width="1"/>
<text x="204.4" y="347.9" class="tk" text-anchor="middle">4</text>
<text x="114.3" y="356.9" class="at" text-anchor="middle">LODDS</text>
<text transform="translate(6.6,271.8) rotate(-90)" class="yt" text-anchor="middle">Hazard Ratio (95%CI)</text>
<text x="114.3" y="197.8" class="ti" text-anchor="middle">Age 65−79 years</text>
<text x="0.9" y="198" class="lb">D</text>
<text x="33.8" y="287.4" class="an">cutoff: X = -1.6</text>
<text x="33.8" y="296.9" class="an">nonlinearity: p = 0.009</text>
<polygon points="269.1,327.79 269.85,327.81 270.6,327.82 271.35,327.83 272.09,327.84 272.84,327.84 273.59,327.85 274.34,327.86 275.09,327.86 275.84,327.86 276.59,327.87 277.34,327.87 278.08,327.87 278.83,327.87 279.58,327.87 280.33,327.86 281.08,327.86 281.83,327.86 282.58,327.85 283.32,327.84 284.07,327.84 284.82,327.83 285.57,327.82 286.32,327.81 287.07,327.8 287.82,327.78 288.57,327.77 289.31,327.76 290.06,327.74 290.81,327.73 291.56,327.71 292.31,327.69 293.06,327.67 293.81,327.65 294.55,327.63 295.3,327.61 296.05,327.59 296.8,327.57 297.55,327.54 298.3,327.52 299.05,327.49 299.8,327.46 300.54,327.44 301.29,327.41 302.04,327.38 302.79,327.35 303.54,327.31 304.29,327.28 305.04,327.25 305.78,327.21 306.53,327.18 307.28,327.14 308.03,327.1 308.78,327.06 309.53,327.02 310.28,326.98 311.03,326.94 311.77,326.9 312.52,326.86 313.27,326.81 314.02,326.76 314.77,326.72 315.52,326.67 316.27,326.62 317.01,326.57 317.76,326.52 318.51,326.47 319.26,326.41 320.01,326.36 320.76,326.3 321.51,326.24 322.25,326.18 323,326.12 323.75,326.06 324.5,326 325.25,325.94 326,325.87 326.75,325.81 327.5,325.74 328.24,325.65 328.99,325.55 329.74,325.45 330.49,325.35 331.24,325.25 331.99,325.14 332.74,325.04 333.48,324.93 334.23,324.81 334.98,324.7 335.73,324.58 336.48,324.46 337.23,324.33 337.98,324.21 338.73,324.08 339.47,323.95 340.22,323.81 340.97,323.68 341.72,323.54 342.47,323.39 343.22,323.25 343.97,323.1 344.71,322.95 345.46,322.79 346.21,322.63 346.96,322.47 347.71,322.31 348.46,322.14 349.21,321.97 349.96,321.79 350.7,321.61 351.45,321.43 352.2,321.25 352.95,321.06 353.7,320.86 354.45,320.66 355.2,320.46 355.94,320.26 356.69,320.05 357.44,319.84 358.19,319.62 358.94,319.4 359.69,319.17 360.44,318.94 361.19,318.7 361.93,318.46 362.68,318.22 363.43,317.97 364.18,317.71 364.93,317.45 365.68,317.19 366.43,316.92 367.17,316.64 367.92,316.36 368.67,316.08 369.42,315.79 370.17,315.49 370.92,315.19 371.67,314.88 372.42,314.56 373.16,314.24 373.91,313.91 374.66,313.58 375.41,313.24 376.16,312.9 376.91,312.54 377.66,312.18 378.4,311.82 379.15,311.44 379.9,311.06 380.65,310.68 381.4,310.28 382.15,309.88 382.9,309.47 383.65,309.05 384.39,308.62 385.14,308.19 385.89,307.75 386.64,307.3 387.39,306.84 388.14,306.37 388.89,305.9 389.63,305.41 390.38,304.92 391.13,304.41 391.88,303.9 392.63,303.38 393.38,302.85 394.13,302.31 394.88,301.76 395.62,301.19 396.37,300.62 397.12,300.04 397.87,299.45 398.62,298.84 399.37,298.23 400.12,297.6 400.86,296.97 401.61,296.32 402.36,295.66 403.11,294.99 403.86,294.3 404.61,293.6 405.36,292.9 406.1,292.17 406.85,291.44 407.6,290.69 408.35,289.93 409.1,289.16 409.85,288.37 410.6,287.57 411.35,286.75 412.09,285.92 412.84,285.08 413.59,284.22 414.34,283.34 415.09,282.45 415.84,281.55 416.59,280.63 417.33,279.69 418.08,278.74 418.83,277.77 419.58,276.78 420.33,275.78 421.08,274.76 421.83,273.73 422.58,272.67 423.32,271.6 424.07,270.51 424.82,269.4 425.57,268.28 426.32,267.13 427.07,265.97 427.82,264.78 428.56,263.58 429.31,262.36 430.06,261.12 430.81,259.85 431.56,258.57 432.31,257.27 433.06,255.94 433.81,254.59 434.55,253.23 435.3,251.84 436.05,250.42 436.8,248.99 436.8,286.63 436.05,287.18 435.3,287.73 434.55,288.28 433.81,288.82 433.06,289.36 432.31,289.89 431.56,290.41 430.81,290.93 430.06,291.45 429.31,291.96 428.56,292.46 427.82,292.96 427.07,293.46 426.32,293.95 425.57,294.43 424.82,294.91 424.07,295.39 423.32,295.86 422.58,296.32 421.83,296.79 421.08,297.24 420.33,297.69 419.58,298.14 418.83,298.58 418.08,299.02 417.33,299.45 416.59,299.88 415.84,300.3 415.09,300.72 414.34,301.13 413.59,301.54 412.84,301.95 412.09,302.35 411.35,302.74 410.6,303.13 409.85,303.52 409.1,303.9 408.35,304.28 407.6,304.65 406.85,305.02 406.1,305.38 405.36,305.74 404.61,306.1 403.86,306.45 403.11,306.8 402.36,307.14 401.61,307.48 400.86,307.81 400.12,308.15 399.37,308.47 398.62,308.79 397.87,309.11 397.12,309.43 396.37,309.74 395.62,310.04 394.88,310.35 394.13,310.65 393.38,310.94 392.63,311.23 391.88,311.52 391.13,311.8 390.38,312.08 389.63,312.36 388.89,312.63 388.14,312.9 387.39,313.17 386.64,313.43 385.89,313.69 385.14,313.95 384.39,314.2 383.65,314.45 382.9,314.69 382.15,314.93 381.4,315.17 380.65,315.41 379.9,315.64 379.15,315.87 378.4,316.09 377.66,316.32 376.91,316.54 376.16,316.75 375.41,316.97 374.66,317.18 373.91,317.38 373.16,317.59 372.42,317.79 371.67,317.99 370.92,318.19 370.17,318.38 369.42,318.57 368.67,318.76 367.92,318.94 367.17,319.13 366.43,319.31 365.68,319.48 364.93,319.66 364.18,319.83 363.43,320 362.68,320.17 361.93,320.33 361.19,320.49 360.44,320.65 359.69,320.81 358.94,320.96 358.19,321.12 357.44,321.27 356.69,321.42 355.94,321.56 355.2,321.71 354.45,321.85 353.7,321.99 352.95,322.12 352.2,322.26 351.45,322.39 350.7,322.52 349.96,322.65 349.21,322.78 348.46,322.91 347.71,323.03 346.96,323.15 346.21,323.27 345.46,323.39 344.71,323.5 343.97,323.62 343.22,323.73 342.47,323.84 341.72,323.95 340.97,324.06 340.22,324.16 339.47,324.27 338.73,324.37 337.98,324.47 337.23,324.57 336.48,324.67 335.73,324.76 334.98,324.86 334.23,324.95 333.48,325.05 332.74,325.14 331.99,325.23 331.24,325.31 330.49,325.4 329.74,325.49 328.99,325.57 328.24,325.66 327.5,325.74 326.75,325.83 326,325.92 325.25,326 324.5,326.08 323.75,326.17 323,326.25 322.25,326.33 321.51,326.4 320.76,326.48 320.01,326.55 319.26,326.63 318.51,326.7 317.76,326.77 317.01,326.84 316.27,326.9 315.52,326.97 314.77,327.03 314.02,327.1 313.27,327.16 312.52,327.22 311.77,327.28 311.03,327.33 310.28,327.39 309.53,327.45 308.78,327.5 308.03,327.55 307.28,327.6 306.53,327.65 305.78,327.7 305.04,327.75 304.29,327.8 303.54,327.84 302.79,327.89 302.04,327.93 301.29,327.98 300.54,328.02 299.8,328.06 299.05,328.1 298.3,328.14 297.55,328.17 296.8,328.21 296.05,328.25 295.3,328.28 294.55,328.31 293.81,328.35 293.06,328.38 292.31,328.41 291.56,328.44 290.81,328.47 290.06,328.49 289.31,328.52 288.57,328.55 287.82,328.57 287.07,328.6 286.32,328.62 285.57,328.64 284.82,328.66 284.07,328.68 283.32,328.7 282.58,328.72 281.83,328.74 281.08,328.76 280.33,328.77 279.58,328.79 278.83,328.8 278.08,328.82 277.34,328.83 276.59,328.84 275.84,328.85 275.09,328.86 274.34,328.87 273.59,328.88 272.84,328.89 272.09,328.89 271.35,328.9 270.6,328.91 269.85,328.91 269.1,328.91" fill="#C9CDCF"/>
<line x1="260.7" y1="326.55" x2="445.1" y2="326.55" stroke="#000" stroke-width="1.1" stroke-dasharray="3.5 3.5"/>
<line x1="327.8" y1="339.4" x2="327.8" y2="204.2" stroke="#A0A0A0" stroke-width="0.9" stroke-dasharray="3.5 3.5"/>
<polyline points="269.1,328.8 269.85,328.8 270.6,328.8 271.35,328.79 272.09,328.79 272.84,328.78 273.59,328.78 274.34,328.77 275.09,328.76 275.84,328.75 276.59,328.74 277.34,328.73 278.08,328.72 278.83,328.71 279.58,328.69 280.33,328.68 281.08,328.67 281.83,328.65 282.58,328.63 283.32,328.61 284.07,328.6 284.82,328.58 285.57,328.56 286.32,328.54 287.07,328.51 287.82,328.49 288.57,328.47 289.31,328.44 290.06,328.42 290.81,328.39 291.56,328.36 292.31,328.33 293.06,328.3 293.81,328.27 294.55,328.24 295.3,328.21 296.05,328.18 296.8,328.14 297.55,328.11 298.3,328.07 299.05,328.03 299.8,328 300.54,327.96 301.29,327.92 302.04,327.87 302.79,327.83 303.54,327.79 304.29,327.74 305.04,327.7 305.78,327.65 306.53,327.6 307.28,327.55 308.03,327.5 308.78,327.45 309.53,327.4 310.28,327.35 311.03,327.29 311.77,327.24 312.52,327.18 313.27,327.12 314.02,327.06 314.77,327 315.52,326.94 316.27,326.87 317.01,326.81 317.76,326.74 318.51,326.67 319.26,326.6 320.01,326.53 320.76,326.46 321.51,326.39 322.25,326.31 323,326.23 323.75,326.16 324.5,326.08 325.25,325.99 326,325.91 326.75,325.83 327.5,325.74 328.24,325.65 328.99,325.56 329.74,325.47 330.49,325.38 331.24,325.28 331.99,325.19 332.74,325.09 333.48,324.99 334.23,324.88 334.98,324.78 335.73,324.67 336.48,324.56 337.23,324.45 337.98,324.34 338.73,324.23 339.47,324.11 340.22,323.99 340.97,323.87 341.72,323.75 342.47,323.62 343.22,323.49 343.97,323.36 344.71,323.23 345.46,323.09 346.21,322.96 346.96,322.82 347.71,322.67 348.46,322.53 349.21,322.38 349.96,322.23 350.7,322.08 351.45,321.92 352.2,321.76 352.95,321.6 353.7,321.44 354.45,321.27 355.2,321.1 355.94,320.93 356.69,320.75 357.44,320.57 358.19,320.39 358.94,320.2 359.69,320.01 360.44,319.82 361.19,319.63 361.93,319.43 362.68,319.22 363.43,319.02 364.18,318.81 364.93,318.6 365.68,318.38 366.43,318.16 367.17,317.93 367.92,317.71 368.67,317.47 369.42,317.24 370.17,317 370.92,316.75 371.67,316.51 372.42,316.25 373.16,316 373.91,315.73 374.66,315.47 375.41,315.2 376.16,314.92 376.91,314.65 377.66,314.36 378.4,314.07 379.15,313.78 379.9,313.48 380.65,313.18 381.4,312.87 382.15,312.56 382.9,312.24 383.65,311.92 384.39,311.59 385.14,311.25 385.89,310.92 386.64,310.57 387.39,310.22 388.14,309.86 388.89,309.5 389.63,309.13 390.38,308.76 391.13,308.38 391.88,308 392.63,307.6 393.38,307.21 394.13,306.8 394.88,306.39 395.62,305.97 396.37,305.55 397.12,305.12 397.87,304.68 398.62,304.24 399.37,303.79 400.12,303.33 400.86,302.87 401.61,302.4 402.36,301.92 403.11,301.43 403.86,300.94 404.61,300.44 405.36,299.93 406.1,299.41 406.85,298.89 407.6,298.36 408.35,297.82 409.1,297.27 409.85,296.72 410.6,296.15 411.35,295.58 412.09,295 412.84,294.41 413.59,293.82 414.34,293.21 415.09,292.6 415.84,291.97 416.59,291.34 417.33,290.7 418.08,290.05 418.83,289.39 419.58,288.72 420.33,288.04 421.08,287.35 421.83,286.66 422.58,285.95 423.32,285.23 424.07,284.51 424.82,283.77 425.57,283.02 426.32,282.27 427.07,281.5 427.82,280.72 428.56,279.94 429.31,279.14 430.06,278.33 430.81,277.51 431.56,276.68 432.31,275.84 433.06,274.99 433.81,274.13 434.55,273.25 435.3,272.37 436.05,271.47 436.8,270.57" fill="none" stroke="#17639C" stroke-width="1.8" stroke-linejoin="round"/>
<path d="M260.7,204.2 V339.4 H445.1" fill="none" stroke="#000" stroke-width="1.1"/>
<line x1="258.7" y1="333.4" x2="260.7" y2="333.4" stroke="#333333" stroke-width="1"/>
<text x="257.1" y="335.7" class="tk" text-anchor="end">0</text>
<line x1="258.7" y1="299.13" x2="260.7" y2="299.13" stroke="#333333" stroke-width="1"/>
<text x="257.1" y="301.44" class="tk" text-anchor="end">5</text>
<line x1="258.7" y1="264.87" x2="260.7" y2="264.87" stroke="#333333" stroke-width="1"/>
<text x="257.1" y="267.17" class="tk" text-anchor="end">10</text>
<line x1="258.7" y1="230.6" x2="260.7" y2="230.6" stroke="#333333" stroke-width="1"/>
<text x="257.1" y="232.9" class="tk" text-anchor="end">15</text>
<line x1="270.8" y1="339.4" x2="270.8" y2="341.4" stroke="#333333" stroke-width="1"/>
<text x="270.8" y="347.9" class="tk" text-anchor="middle">−4</text>
<line x1="318" y1="339.4" x2="318" y2="341.4" stroke="#333333" stroke-width="1"/>
<text x="318" y="347.9" class="tk" text-anchor="middle">−2</text>
<line x1="365.2" y1="339.4" x2="365.2" y2="341.4" stroke="#333333" stroke-width="1"/>
<text x="365.2" y="347.9" class="tk" text-anchor="middle">0</text>
<line x1="412.4" y1="339.4" x2="412.4" y2="341.4" stroke="#333333" stroke-width="1"/>
<text x="412.4" y="347.9" class="tk" text-anchor="middle">2</text>
<text x="352.9" y="356.9" class="at" text-anchor="middle">LODDS</text>
<text transform="translate(245.3,271.8) rotate(-90)" class="yt" text-anchor="middle">Hazard Ratio (95%CI)</text>
<text x="352.9" y="197.7" class="ti" text-anchor="middle">BCS</text>
<text x="239.8" y="198" class="lb">E</text>
<text x="271.1" y="287.0" class="an">cutoff: X = -1.6</text>
<text x="271.1" y="296.6" class="an">nonlinearity: p = 0.006</text>
<polygon points="508,328.41 508.75,328.41 509.49,328.42 510.24,328.42 510.99,328.42 511.73,328.42 512.48,328.41 513.23,328.41 513.97,328.41 514.72,328.4 515.47,328.39 516.21,328.39 516.96,328.38 517.71,328.37 518.45,328.36 519.2,328.35 519.95,328.33 520.69,328.32 521.44,328.3 522.19,328.29 522.93,328.27 523.68,328.25 524.43,328.23 525.17,328.21 525.92,328.19 526.67,328.17 527.41,328.15 528.16,328.12 528.91,328.1 529.65,328.07 530.4,328.05 531.15,328.02 531.89,327.99 532.64,327.96 533.39,327.93 534.13,327.9 534.88,327.86 535.63,327.83 536.37,327.79 537.12,327.76 537.87,327.72 538.61,327.68 539.36,327.64 540.11,327.6 540.85,327.56 541.6,327.51 542.35,327.47 543.09,327.42 543.84,327.38 544.59,327.33 545.33,327.28 546.08,327.23 546.83,327.18 547.57,327.12 548.32,327.07 549.07,327.02 549.81,326.96 550.56,326.9 551.31,326.84 552.05,326.78 552.8,326.72 553.55,326.66 554.29,326.59 555.04,326.53 555.79,326.46 556.53,326.39 557.28,326.32 558.03,326.25 558.77,326.18 559.52,326.1 560.27,326.03 561.01,325.94 561.76,325.85 562.51,325.76 563.25,325.66 564,325.57 564.75,325.47 565.49,325.37 566.24,325.27 566.99,325.16 567.73,325.06 568.48,324.95 569.23,324.84 569.97,324.72 570.72,324.61 571.47,324.49 572.21,324.37 572.96,324.24 573.71,324.12 574.45,323.99 575.2,323.86 575.95,323.72 576.69,323.59 577.44,323.45 578.19,323.31 578.93,323.16 579.68,323.01 580.43,322.86 581.17,322.71 581.92,322.55 582.67,322.39 583.41,322.23 584.16,322.06 584.91,321.89 585.65,321.72 586.4,321.54 587.15,321.36 587.89,321.18 588.64,320.99 589.39,320.8 590.13,320.6 590.88,320.4 591.63,320.2 592.37,319.99 593.12,319.78 593.87,319.57 594.61,319.35 595.36,319.13 596.11,318.9 596.85,318.67 597.6,318.43 598.35,318.19 599.09,317.94 599.84,317.69 600.59,317.44 601.33,317.17 602.08,316.91 602.83,316.64 603.57,316.36 604.32,316.08 605.07,315.79 605.81,315.5 606.56,315.2 607.31,314.9 608.05,314.59 608.8,314.27 609.55,313.95 610.29,313.62 611.04,313.29 611.79,312.95 612.53,312.6 613.28,312.25 614.03,311.89 614.77,311.52 615.52,311.15 616.27,310.77 617.01,310.38 617.76,309.98 618.51,309.58 619.25,309.17 620,308.75 620.75,308.32 621.49,307.89 622.24,307.44 622.99,306.99 623.73,306.53 624.48,306.06 625.23,305.59 625.97,305.1 626.72,304.61 627.47,304.1 628.21,303.59 628.96,303.06 629.71,302.53 630.45,301.98 631.2,301.43 631.95,300.87 632.69,300.29 633.44,299.71 634.19,299.11 634.93,298.5 635.68,297.88 636.43,297.25 637.17,296.61 637.92,295.96 638.67,295.29 639.41,294.61 640.16,293.92 640.91,293.22 641.65,292.5 642.4,291.77 643.15,291.03 643.89,290.27 644.64,289.5 645.39,288.71 646.13,287.91 646.88,287.1 647.63,286.27 648.37,285.43 649.12,284.56 649.87,283.69 650.61,282.8 651.36,281.89 652.11,280.96 652.85,280.02 653.6,279.06 654.35,278.08 655.09,277.09 655.84,276.08 656.59,275.04 657.33,273.99 658.08,272.92 658.83,271.83 659.57,270.72 660.32,269.6 661.07,268.45 661.81,267.27 662.56,266.08 663.31,264.87 664.05,263.63 664.8,262.37 665.55,261.09 666.29,259.79 667.04,258.46 667.79,257.1 668.53,255.73 669.28,254.32 670.03,252.89 670.77,251.44 671.52,249.96 672.27,248.45 673.01,246.91 673.76,245.35 674.51,243.76 675.25,242.14 676,240.49 676,273.53 675.25,274.26 674.51,274.98 673.76,275.7 673.01,276.4 672.27,277.11 671.52,277.8 670.77,278.49 670.03,279.17 669.28,279.85 668.53,280.52 667.79,281.18 667.04,281.84 666.29,282.49 665.55,283.13 664.8,283.77 664.05,284.4 663.31,285.02 662.56,285.64 661.81,286.25 661.07,286.85 660.32,287.45 659.57,288.04 658.83,288.63 658.08,289.21 657.33,289.78 656.59,290.35 655.84,290.91 655.09,291.47 654.35,292.02 653.6,292.56 652.85,293.1 652.11,293.63 651.36,294.16 650.61,294.68 649.87,295.19 649.12,295.7 648.37,296.2 647.63,296.7 646.88,297.19 646.13,297.68 645.39,298.16 644.64,298.63 643.89,299.1 643.15,299.57 642.4,300.03 641.65,300.48 640.91,300.93 640.16,301.37 639.41,301.81 638.67,302.24 637.92,302.67 637.17,303.09 636.43,303.51 635.68,303.92 634.93,304.33 634.19,304.73 633.44,305.13 632.69,305.52 631.95,305.91 631.2,306.29 630.45,306.66 629.71,307.04 628.96,307.41 628.21,307.77 627.47,308.13 626.72,308.48 625.97,308.83 625.23,309.18 624.48,309.52 623.73,309.85 622.99,310.18 622.24,310.51 621.49,310.83 620.75,311.15 620,311.47 619.25,311.78 618.51,312.08 617.76,312.38 617.01,312.68 616.27,312.97 615.52,313.26 614.77,313.55 614.03,313.83 613.28,314.11 612.53,314.38 611.79,314.65 611.04,314.92 610.29,315.18 609.55,315.44 608.8,315.69 608.05,315.94 607.31,316.19 606.56,316.43 605.81,316.67 605.07,316.91 604.32,317.14 603.57,317.37 602.83,317.6 602.08,317.82 601.33,318.04 600.59,318.26 599.84,318.47 599.09,318.68 598.35,318.89 597.6,319.09 596.85,319.3 596.11,319.49 595.36,319.69 594.61,319.88 593.87,320.07 593.12,320.25 592.37,320.44 591.63,320.62 590.88,320.79 590.13,320.97 589.39,321.14 588.64,321.31 587.89,321.48 587.15,321.64 586.4,321.8 585.65,321.96 584.91,322.12 584.16,322.27 583.41,322.42 582.67,322.57 581.92,322.71 581.17,322.86 580.43,323 579.68,323.14 578.93,323.28 578.19,323.41 577.44,323.54 576.69,323.67 575.95,323.8 575.2,323.93 574.45,324.05 573.71,324.17 572.96,324.29 572.21,324.41 571.47,324.52 570.72,324.64 569.97,324.75 569.23,324.86 568.48,324.96 567.73,325.07 566.99,325.17 566.24,325.28 565.49,325.38 564.75,325.47 564,325.57 563.25,325.67 562.51,325.76 561.76,325.85 561.01,325.94 560.27,326.03 559.52,326.12 558.77,326.21 558.03,326.29 557.28,326.38 556.53,326.46 555.79,326.54 555.04,326.62 554.29,326.69 553.55,326.77 552.8,326.84 552.05,326.92 551.31,326.99 550.56,327.06 549.81,327.12 549.07,327.19 548.32,327.25 547.57,327.32 546.83,327.38 546.08,327.44 545.33,327.5 544.59,327.56 543.84,327.62 543.09,327.67 542.35,327.72 541.6,327.78 540.85,327.83 540.11,327.88 539.36,327.93 538.61,327.98 537.87,328.02 537.12,328.07 536.37,328.11 535.63,328.15 534.88,328.2 534.13,328.24 533.39,328.28 532.64,328.32 531.89,328.35 531.15,328.39 530.4,328.42 529.65,328.46 528.91,328.49 528.16,328.52 527.41,328.56 526.67,328.59 525.92,328.61 525.17,328.64 524.43,328.67 523.68,328.69 522.93,328.72 522.19,328.74 521.44,328.77 520.69,328.79 519.95,328.81 519.2,328.83 518.45,328.85 517.71,328.87 516.96,328.88 516.21,328.9 515.47,328.91 514.72,328.93 513.97,328.94 513.23,328.95 512.48,328.96 511.73,328.97 510.99,328.98 510.24,328.99 509.49,329 508.75,329.01 508,329.01" fill="#C9CDCF"/>
<line x1="499.7" y1="326.55" x2="684.0" y2="326.55" stroke="#000" stroke-width="1.1" stroke-dasharray="3.5 3.5"/>
<line x1="560.6" y1="339.4" x2="560.6" y2="204.2" stroke="#A0A0A0" stroke-width="0.9" stroke-dasharray="3.5 3.5"/>
<polyline points="508,328.9 508.75,328.89 509.49,328.89 510.24,328.88 510.99,328.88 511.73,328.87 512.48,328.86 513.23,328.85 513.97,328.84 514.72,328.83 515.47,328.81 516.21,328.8 516.96,328.79 517.71,328.77 518.45,328.75 519.2,328.74 519.95,328.72 520.69,328.7 521.44,328.68 522.19,328.66 522.93,328.63 523.68,328.61 524.43,328.58 525.17,328.56 525.92,328.53 526.67,328.51 527.41,328.48 528.16,328.45 528.91,328.42 529.65,328.38 530.4,328.35 531.15,328.32 531.89,328.28 532.64,328.25 533.39,328.21 534.13,328.17 534.88,328.13 535.63,328.09 536.37,328.05 537.12,328.01 537.87,327.96 538.61,327.92 539.36,327.87 540.11,327.82 540.85,327.78 541.6,327.73 542.35,327.67 543.09,327.62 543.84,327.57 544.59,327.51 545.33,327.46 546.08,327.4 546.83,327.34 547.57,327.28 548.32,327.22 549.07,327.16 549.81,327.09 550.56,327.03 551.31,326.96 552.05,326.89 552.8,326.82 553.55,326.75 554.29,326.67 555.04,326.6 555.79,326.52 556.53,326.44 557.28,326.36 558.03,326.28 558.77,326.2 559.52,326.12 560.27,326.03 561.01,325.94 561.76,325.85 562.51,325.76 563.25,325.67 564,325.57 564.75,325.47 565.49,325.37 566.24,325.27 566.99,325.17 567.73,325.06 568.48,324.96 569.23,324.85 569.97,324.73 570.72,324.62 571.47,324.51 572.21,324.39 572.96,324.27 573.71,324.14 574.45,324.02 575.2,323.89 575.95,323.76 576.69,323.63 577.44,323.5 578.19,323.36 578.93,323.22 579.68,323.08 580.43,322.93 581.17,322.78 581.92,322.63 582.67,322.48 583.41,322.32 584.16,322.17 584.91,322 585.65,321.84 586.4,321.67 587.15,321.5 587.89,321.33 588.64,321.15 589.39,320.97 590.13,320.79 590.88,320.6 591.63,320.41 592.37,320.22 593.12,320.02 593.87,319.82 594.61,319.62 595.36,319.41 596.11,319.2 596.85,318.98 597.6,318.77 598.35,318.54 599.09,318.32 599.84,318.09 600.59,317.85 601.33,317.62 602.08,317.37 602.83,317.13 603.57,316.88 604.32,316.62 605.07,316.36 605.81,316.1 606.56,315.83 607.31,315.56 608.05,315.28 608.8,315 609.55,314.71 610.29,314.42 611.04,314.12 611.79,313.82 612.53,313.51 613.28,313.2 614.03,312.88 614.77,312.56 615.52,312.23 616.27,311.9 617.01,311.56 617.76,311.21 618.51,310.86 619.25,310.51 620,310.15 620.75,309.78 621.49,309.41 622.24,309.03 622.99,308.64 623.73,308.25 624.48,307.85 625.23,307.44 625.97,307.03 626.72,306.61 627.47,306.19 628.21,305.76 628.96,305.32 629.71,304.87 630.45,304.42 631.2,303.96 631.95,303.49 632.69,303.02 633.44,302.54 634.19,302.05 634.93,301.55 635.68,301.04 636.43,300.53 637.17,300.01 637.92,299.48 638.67,298.94 639.41,298.4 640.16,297.84 640.91,297.28 641.65,296.71 642.4,296.13 643.15,295.54 643.89,294.94 644.64,294.33 645.39,293.72 646.13,293.09 646.88,292.46 647.63,291.81 648.37,291.16 649.12,290.49 649.87,289.82 650.61,289.13 651.36,288.44 652.11,287.73 652.85,287.02 653.6,286.29 654.35,285.55 655.09,284.81 655.84,284.05 656.59,283.28 657.33,282.5 658.08,281.7 658.83,280.9 659.57,280.08 660.32,279.25 661.07,278.41 661.81,277.56 662.56,276.7 663.31,275.82 664.05,274.93 664.8,274.02 665.55,273.11 666.29,272.18 667.04,271.24 667.79,270.28 668.53,269.31 669.28,268.33 670.03,267.33 670.77,266.32 671.52,265.29 672.27,264.25 673.01,263.19 673.76,262.12 674.51,261.03 675.25,259.93 676,258.81" fill="none" stroke="#17639C" stroke-width="1.8" stroke-linejoin="round"/>
<path d="M499.7,204.2 V339.4 H684.0" fill="none" stroke="#000" stroke-width="1.1"/>
<line x1="497.7" y1="333.4" x2="499.7" y2="333.4" stroke="#333333" stroke-width="1"/>
<text x="496.1" y="335.7" class="tk" text-anchor="end">0</text>
<line x1="497.7" y1="299.13" x2="499.7" y2="299.13" stroke="#333333" stroke-width="1"/>
<text x="496.1" y="301.44" class="tk" text-anchor="end">5</text>
<line x1="497.7" y1="264.87" x2="499.7" y2="264.87" stroke="#333333" stroke-width="1"/>
<text x="496.1" y="267.17" class="tk" text-anchor="end">10</text>
<line x1="497.7" y1="230.6" x2="499.7" y2="230.6" stroke="#333333" stroke-width="1"/>
<text x="496.1" y="232.9" class="tk" text-anchor="end">15</text>
<line x1="542" y1="339.4" x2="542" y2="341.4" stroke="#333333" stroke-width="1"/>
<text x="542" y="347.9" class="tk" text-anchor="middle">−2.5</text>
<line x1="593.2" y1="339.4" x2="593.2" y2="341.4" stroke="#333333" stroke-width="1"/>
<text x="593.2" y="347.9" class="tk" text-anchor="middle">0.0</text>
<line x1="644.4" y1="339.4" x2="644.4" y2="341.4" stroke="#333333" stroke-width="1"/>
<text x="644.4" y="347.9" class="tk" text-anchor="middle">2.5</text>
<text x="591.85" y="356.9" class="at" text-anchor="middle">LODDS</text>
<text transform="translate(484.3,271.8) rotate(-90)" class="yt" text-anchor="middle">Hazard Ratio (95%CI)</text>
<text x="591.85" y="197.6" class="ti" text-anchor="middle">Mastectomy</text>
<text x="479.2" y="198" class="lb">F</text>
<text x="510.9" y="287.4" class="an">cutoff: X = -1.6</text>
<text x="510.9" y="296.9" class="an">nonlinearity: p <0.001</text>
</svg>
</body></html>
